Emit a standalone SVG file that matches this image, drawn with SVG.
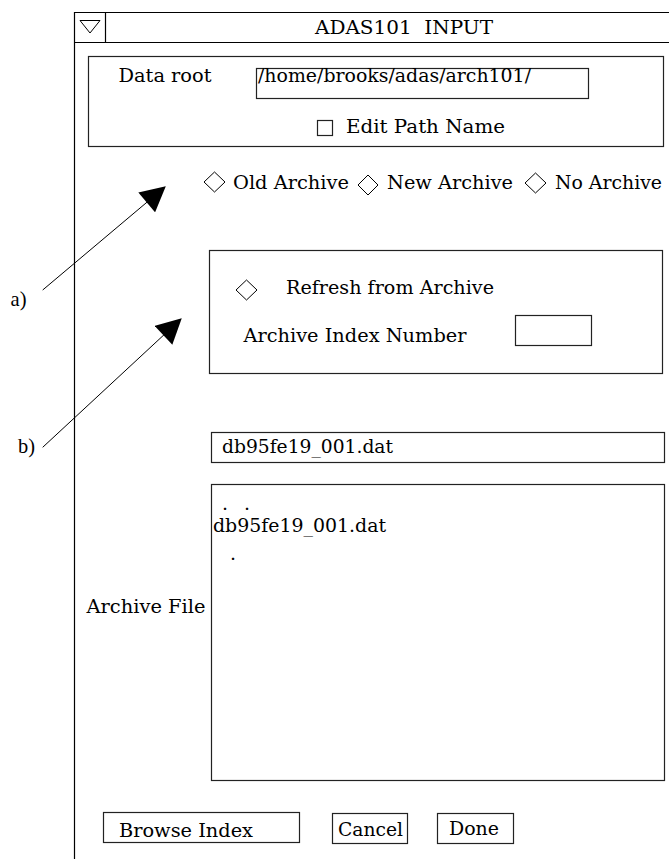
<svg xmlns="http://www.w3.org/2000/svg" width="669" height="859" viewBox="0 0 669 859">
  <style>
    text { font-family: "DejaVu Serif", "Liberation Serif", serif; font-size: 19px; fill: #000; }
    .lbl { font-family: "Liberation Serif", "DejaVu Serif", serif; font-size: 21px; }
    .frame { fill: none; stroke: #000; stroke-width: 1.2; }
    .box { fill: #fff; stroke: #222; stroke-width: 1.2; }
    .radio { fill: #fff; stroke: #000; stroke-width: 1; }
    .conn { stroke: #000; stroke-width: 1; fill: none; }
  </style>
  <defs>
    <marker id="head" markerUnits="userSpaceOnUse" markerWidth="26" markerHeight="26" viewBox="0 0 24 25" refX="23" refY="12.5" orient="auto">
      <path d="M0,0 L24,12.5 L0,25 z" fill="#000"/>
    </marker>
  </defs>
  <rect x="0" y="0" width="669" height="859" fill="#fff"/>

  <g id="window-frame">
    <line class="frame" x1="74.5" y1="12" x2="74.5" y2="859"/>
    <line class="frame" x1="74" y1="12.5" x2="669" y2="12.5"/>
    <line class="frame" x1="74" y1="42.5" x2="669" y2="42.5"/>
    <line class="frame" x1="105.5" y1="12" x2="105.5" y2="42"/>
    <polygon points="80,20.5 100,20.5 90,33" fill="none" stroke="#000" stroke-width="1"/>
    <text x="315" y="34" textLength="178" lengthAdjust="spacingAndGlyphs" style="white-space:pre">ADAS101  INPUT</text>
  </g>

  <g id="data-root">
    <rect class="box" x="88.5" y="56.5" width="575" height="90"/>
    <text x="118.5" y="82" textLength="93" lengthAdjust="spacingAndGlyphs">Data root</text>
    <rect class="box" x="256.5" y="68.5" width="332" height="30"/>
    <text x="258" y="82" textLength="273" lengthAdjust="spacingAndGlyphs">/home/brooks/adas/arch101/</text>
    <rect class="box" x="317.5" y="120.5" width="15" height="15"/>
    <text x="346" y="133" textLength="159" lengthAdjust="spacingAndGlyphs">Edit Path Name</text>
  </g>

  <g id="archive-options">
    <polygon class="radio" points="204,182 214.5,172 225,182 214.5,192"/>
    <text x="233" y="189" textLength="116" lengthAdjust="spacingAndGlyphs">Old Archive</text>
    <polygon class="radio" points="358,185 368,175 378,185 368,195"/>
    <text x="387" y="189" textLength="126" lengthAdjust="spacingAndGlyphs">New Archive</text>
    <polygon class="radio" points="525,183 535.5,173 546,183 535.5,193"/>
    <text x="555" y="189" textLength="107" lengthAdjust="spacingAndGlyphs">No Archive</text>
  </g>

  <g id="refresh-box">
    <rect class="box" x="209.5" y="250.5" width="453" height="123"/>
    <polygon class="radio" points="236,290 246.5,280 257,290 246.5,300"/>
    <text x="286" y="294" textLength="208" lengthAdjust="spacingAndGlyphs">Refresh from Archive</text>
    <text x="243.5" y="342" textLength="223" lengthAdjust="spacingAndGlyphs">Archive Index Number</text>
    <rect class="box" x="515.5" y="315.5" width="76" height="30"/>
  </g>

  <g id="filename-field">
    <rect class="box" x="211.5" y="432.5" width="453" height="30"/>
    <text x="222" y="453" textLength="171" lengthAdjust="spacingAndGlyphs">db95fe19_001.dat</text>
  </g>

  <g id="file-list">
    <text x="86.5" y="613" textLength="119" lengthAdjust="spacingAndGlyphs">Archive File</text>
    <rect class="box" x="211.5" y="484.5" width="453" height="296"/>
    <text x="222 234 244" y="510">. .</text>
    <text x="213" y="532" textLength="173" lengthAdjust="spacingAndGlyphs">db95fe19_001.dat</text>
    <text x="230" y="560">.</text>
  </g>

  <g id="buttons">
    <g id="btn-browse">
      <rect class="box" x="103.5" y="812.5" width="196" height="30"/>
      <text x="119" y="837" textLength="134" lengthAdjust="spacingAndGlyphs">Browse Index</text>
    </g>
    <g id="btn-cancel">
      <rect class="box" x="332.5" y="813.5" width="75" height="30"/>
      <text x="338" y="836" textLength="65" lengthAdjust="spacingAndGlyphs">Cancel</text>
    </g>
    <g id="btn-done">
      <rect class="box" x="437.5" y="813.5" width="76" height="30"/>
      <text x="449" y="835" textLength="50" lengthAdjust="spacingAndGlyphs">Done</text>
    </g>
  </g>

  <g id="label-a">
    <text class="lbl" x="10.5" y="306" textLength="16" lengthAdjust="spacingAndGlyphs">a)</text>
  </g>
  <g id="label-b">
    <text class="lbl" x="18" y="453" textLength="17" lengthAdjust="spacingAndGlyphs">b)</text>
  </g>

  <g id="connectors">
    <line class="conn" x1="42.7" y1="290" x2="165" y2="187" marker-end="url(#head)"/>
    <line class="conn" x1="42.7" y1="447.3" x2="181" y2="319" marker-end="url(#head)"/>
  </g>
</svg>
